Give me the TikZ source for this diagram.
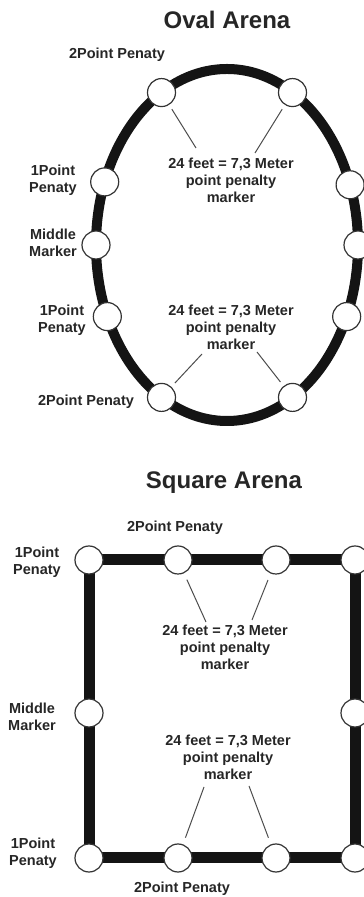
\documentclass[tikz,border=0pt]{standalone}
\usepackage{fontspec}
\setmainfont{Liberation Sans}
\usetikzlibrary{calc}

\begin{document}
\begin{tikzpicture}[x=1pt, y=1pt,
    marker/.style={circle, draw=black!80, line width=1.2pt, fill=white, minimum size=28pt, inner sep=0pt},
    track/.style={line width=10pt, black!92},
    lbl/.style={font=\bfseries\fontsize{14.5}{17}\selectfont, text=black!85, align=center, inner sep=0pt},
    title/.style={font=\bfseries\fontsize{24}{28}\selectfont, text=black!85, inner sep=0pt},
    ptr/.style={line width=1pt, black!70}
  ]
    \useasboundingbox (0,0) rectangle (364,897);

    % oval arena
    \coordinate (oc) at (227,652);
    \draw[track] (oc) ellipse [x radius=131pt, y radius=176pt];
    \foreach \ang/\nm in {120/oTL,159/oL1,180/oLM,204/oL2,240/oBL,60/oTR,20/oR1,0/oRM,-24/oR2,-60/oBR} {
      \node[marker] (\nm) at ($(oc)+(\ang:131pt and 176pt)$) {};
    }
    \node[title] (oTitle) at (227,877) {Oval Arena};
    \node[lbl] (oTop) at (117,842) {2Point Penaty};
    \node[lbl] (oP1) at (53,717) {1Point\\Penaty};
    \node[lbl] (oMid) at (53,654) {Middle\\Marker};
    \node[lbl] (oP2) at (62,577) {1Point\\Penaty};
    \node[lbl] (oBot) at (86,495) {2Point Penaty};
    \node[lbl] (oNoteA) at (231,717) {24 feet = 7,3 Meter\\point penalty\\marker};
    \node[lbl] (oNoteB) at (231,570) {24 feet = 7,3 Meter\\point penalty\\marker};
    \coordinate (oaTL) at (196,749);
    \coordinate (oaTR) at (255,744);
    \coordinate (oaBL) at (202,543);
    \coordinate (oaBR) at (257,545);
    \draw[ptr, shorten <=5pt] (oTL) -- (oaTL);
    \draw[ptr, shorten <=5pt] (oTR) -- (oaTR);
    \draw[ptr, shorten <=5pt] (oBL) -- (oaBL);
    \draw[ptr, shorten <=5pt] (oBR) -- (oaBR);

    % square arena
    \draw[track, line width=11pt] (89,39) rectangle (355,337);
    \foreach \x/\nm in {89/sTL,178/sT1,276/sT2,355/sTR} {
      \node[marker] (\nm) at (\x,337) {};
    }
    \foreach \x/\nm in {89/sBL,178/sB1,276/sB2,355/sBR} {
      \node[marker] (\nm) at (\x,39) {};
    }
    \node[marker] (sLM) at (89,184) {};
    \node[marker] (sRM) at (355,184) {};
    \node[title] (sTitle) at (224,414) {Square Arena};
    \node[lbl] (sTop) at (175,369) {2Point Penaty};
    \node[lbl] (sP1) at (37,335) {1Point\\Penaty};
    \node[lbl] (sMid) at (32,180) {Middle\\Marker};
    \node[lbl] (sP2) at (33,44) {1Point\\Penaty};
    \node[lbl] (sBot) at (182,8) {2Point Penaty};
    \node[lbl] (sNoteA) at (225,250) {24 feet = 7,3 Meter\\point penalty\\marker};
    \node[lbl] (sNoteB) at (228,140) {24 feet = 7,3 Meter\\point penalty\\marker};
    \coordinate (saT1) at (206,275);
    \coordinate (saT2) at (252,277);
    \coordinate (saB1) at (204,110);
    \coordinate (saB2) at (249,111);
    \draw[ptr, shorten <=7pt] (sT1) -- (saT1);
    \draw[ptr, shorten <=7pt] (sT2) -- (saT2);
    \draw[ptr, shorten <=7pt] (sB1) -- (saB1);
    \draw[ptr, shorten <=7pt] (sB2) -- (saB2);
  \end{tikzpicture}
\end{document}
